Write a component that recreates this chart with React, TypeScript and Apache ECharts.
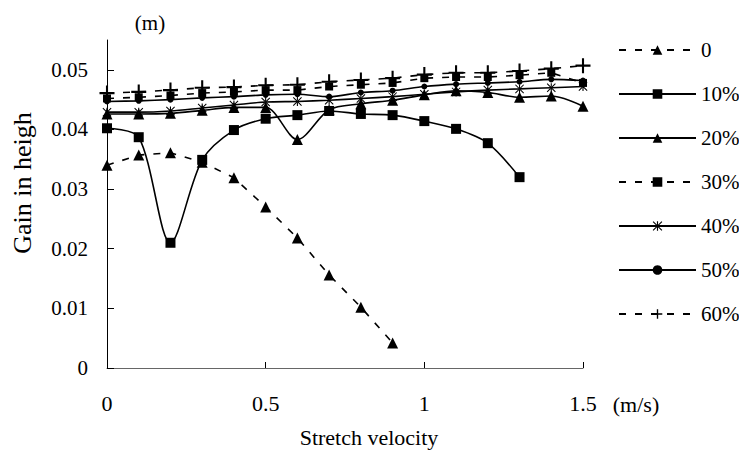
import React, { useEffect, useRef } from "react";
import * as echarts from "echarts";

const xValues = [0, 0.1, 0.2, 0.3, 0.4, 0.5, 0.6, 0.7, 0.8, 0.9, 1.0, 1.1, 1.2, 1.3, 1.4, 1.5];
const seriesNames = ["0", "10%", "20%", "30%", "40%", "50%", "60%"];
const s0 = [0.034, 0.0357, 0.0361, 0.0345, 0.0319, 0.027, 0.0218, 0.0156, 0.0102, 0.0042];
const s10 = [0.0402, 0.0387, 0.021, 0.0349, 0.0399, 0.0418, 0.0424, 0.0431, 0.0426, 0.0424, 0.0414, 0.0401, 0.0377, 0.032];
const s20 = [0.0426, 0.0426, 0.0427, 0.0432, 0.0437, 0.0437, 0.0383, 0.0433, 0.0443, 0.0449, 0.0458, 0.0465, 0.0462, 0.0454, 0.0456, 0.0439];
const s30 = [0.0452, 0.0454, 0.0457, 0.0461, 0.0463, 0.0466, 0.0466, 0.0472, 0.0475, 0.0478, 0.0486, 0.0488, 0.0488, 0.0491, 0.0495, 0.0478];
const s40 = [0.0429, 0.0429, 0.0431, 0.0436, 0.0441, 0.0446, 0.0447, 0.0449, 0.0452, 0.0455, 0.0459, 0.0463, 0.0466, 0.0468, 0.047, 0.0472];
const s50 = [0.0447, 0.0448, 0.045, 0.0453, 0.0455, 0.0458, 0.0459, 0.0455, 0.0462, 0.0465, 0.0472, 0.0476, 0.0478, 0.048, 0.0484, 0.0482];
const s60 = [0.0461, 0.0463, 0.0466, 0.047, 0.0471, 0.0474, 0.0475, 0.048, 0.0483, 0.0486, 0.0492, 0.0495, 0.0495, 0.0498, 0.0502, 0.0507];
const yTicks = [0, 0.01, 0.02, 0.03, 0.04, 0.05];

const FONT = "'Liberation Serif', 'Times New Roman', serif";
const CROSS = "path://M4.3,0 H5.7 V4.3 H10 V5.7 H5.7 V10 H4.3 V5.7 H0 V4.3 H4.3 Z";
const STAR = "path://M4.4,0 H5.6 V10 H4.4 Z M0,0.8 L0.8,0 L10,9.2 L9.2,10 Z M10,0.8 L9.2,0 L0,9.2 L0.8,10 Z";

function pairs(vals: number[]) {
  return vals.map((v, i) => [xValues[i], v]);
}

export default function App() {
  const ref = useRef<HTMLDivElement>(null);
  useEffect(() => {
    if (!ref.current) return;
    document.body.style.margin = "0";
    const chart = echarts.init(ref.current, null, { renderer: "svg" });
    const mk = (
      name: string,
      vals: number[],
      symbol: string,
      size: number,
      dashed: boolean,
      smooth: number | boolean
    ) => ({
      name,
      type: "line",
      data: pairs(vals),
      symbol,
      symbolSize: size,
      smooth,
      lineStyle: { color: "#000", width: 1.6, type: dashed ? [7, 9] : "solid" },
      itemStyle: { color: "#000" },
    });
    chart.setOption({
      animation: false,
      backgroundColor: "#fff",
      grid: { left: 107, right: 156, top: 40, bottom: 83, containLabel: false },
      xAxis: {
        type: "value",
        min: 0,
        max: 1.5,
        interval: 0.5,
        splitLine: { show: false },
        axisLine: { lineStyle: { color: "#666", width: 1 } },
        axisTick: { inside: true, length: 6, lineStyle: { color: "#000" } },
        axisLabel: {
          margin: 24,
          fontSize: 22,
          fontFamily: FONT,
          color: "#000",
          formatter: (v: number) => String(Math.round(v * 10) / 10),
        },
      },
      yAxis: {
        type: "value",
        min: 0,
        max: 0.055,
        splitLine: { show: false },
        axisLine: { show: true, lineStyle: { color: "#000", width: 1 } },
        axisTick: { show: true, inside: true, length: 7, customValues: yTicks, lineStyle: { color: "#000" } },
        axisLabel: {
          margin: 19,
          fontSize: 21,
          fontFamily: FONT,
          color: "#000",
          customValues: yTicks,
          formatter: (v: number) => (v === 0 ? "0" : v.toFixed(2)),
        },
      },
      legend: {
        orient: "vertical",
        left: 613,
        top: 34,
        itemWidth: 77,
        itemHeight: 12,
        itemGap: 22,
        data: seriesNames,
        textStyle: { fontSize: 21, lineHeight: 22, fontFamily: FONT, color: "#000" },
      },
      graphic: [
        { type: "text", x: 150, y: 23, style: { text: "(m)", font: `21px ${FONT}`, fill: "#000", textAlign: "center", textVerticalAlign: "middle" } },
        { type: "text", x: 636, y: 404, style: { text: "(m/s)", font: `22px ${FONT}`, fill: "#000", textAlign: "center", textVerticalAlign: "middle" } },
        { type: "text", x: 369, y: 437, style: { text: "Stretch velocity", font: `22px ${FONT}`, fill: "#000", textAlign: "center", textVerticalAlign: "middle" } },
        { type: "text", x: 22, y: 183, rotation: Math.PI / 2, style: { text: "Gain in heigh", font: `26px ${FONT}`, fill: "#000", textAlign: "center", textVerticalAlign: "middle" } },
      ],
      series: [
        mk(seriesNames[0], s0, "triangle", 11, true, false),
        mk(seriesNames[1], s10, "rect", 10, false, 0.3),
        mk(seriesNames[2], s20, "triangle", 11, false, 0.3),
        mk(seriesNames[3], s30, "rect", 8, true, false),
        mk(seriesNames[4], s40, STAR, 9, false, 0.3),
        mk(seriesNames[5], s50, "circle", 6, false, 0.3),
        mk(seriesNames[6], s60, CROSS, 15, true, false),
      ],
    });
    return () => chart.dispose();
  }, []);
  return <div ref={ref} style={{ width: 739, height: 451 }} />;
}
